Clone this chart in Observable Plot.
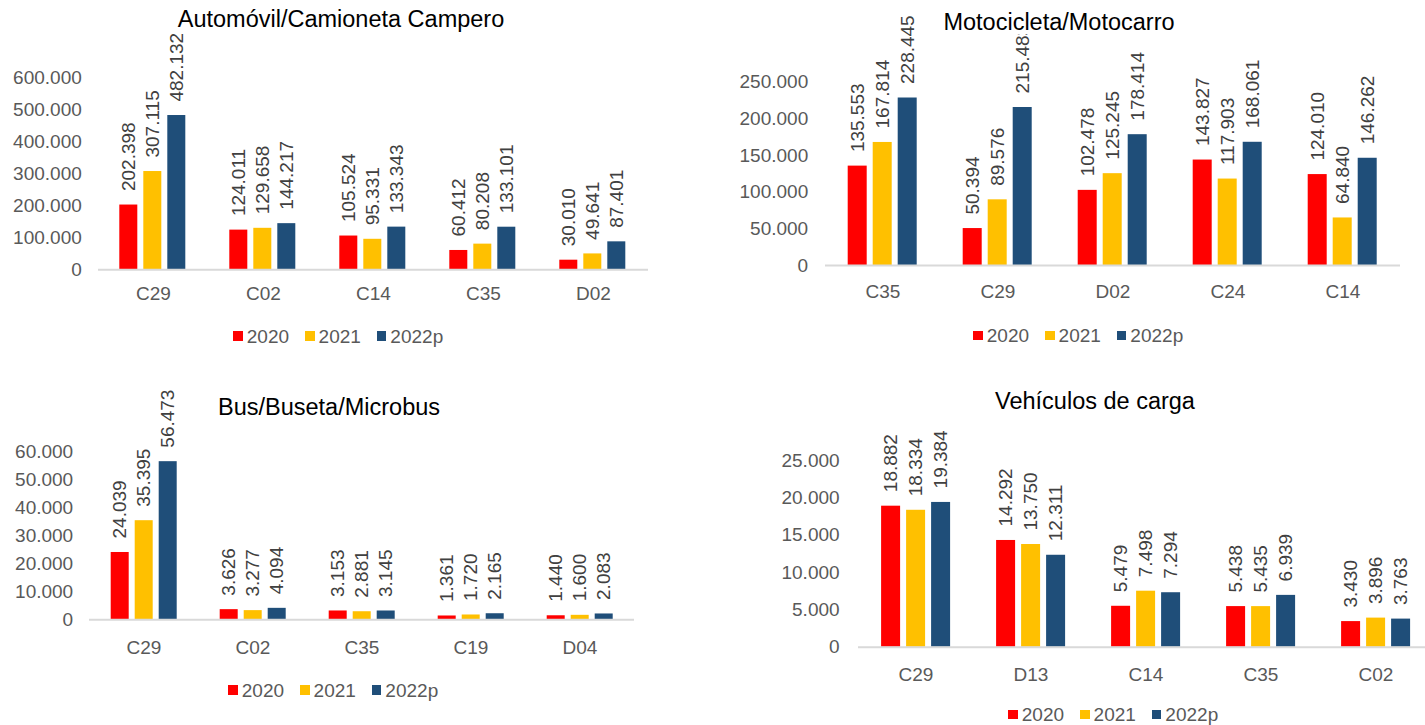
<!DOCTYPE html>
<html>
<head>
<meta charset="utf-8">
<script src="https://cdn.jsdelivr.net/npm/d3@7"></script>
<script src="https://cdn.jsdelivr.net/npm/@observablehq/plot@0.6"></script>
<style>
  html, body { margin: 0; padding: 0; background: #fff; }
  #root { position: relative; width: 1425px; height: 725px; overflow: hidden; background: #fff;
          font-family: "Liberation Sans", Arial, sans-serif; }
  .title { position: absolute; white-space: nowrap; font-size: 23.5px; line-height: 1; color: #000;
           transform: translateX(-50%); background: #fff; }
  .legend { position: absolute; display: flex; align-items: center; height: 19px; font-size: 19px;
            line-height: 19px; color: #595959; white-space: nowrap; }
  .legend .sw { width: 9.5px; height: 9.5px; margin-right: 4px; }
  .legend .item { display: flex; align-items: center; margin-right: 16px; }
</style>
</head>
<body>
<div id="root"></div>
<script>
// ---------- data ----------
const series = ["2020", "2021", "2022p"];
const seriesColors = ["#FF0000", "#FFC000", "#1F4E79"];

// Automóvil/Camioneta Campero
const autoTitle = "Automóvil/Camioneta Campero";
const autoCats = ["C29", "C02", "C14", "C35", "D02"];
const auto2020 = [202398, 124011, 105524, 60412, 30010];
const auto2021 = [307115, 129658, 95331, 80208, 49641];
const auto2022 = [482132, 144217, 133343, 133101, 87401];
const autoTicks = [0, 100000, 200000, 300000, 400000, 500000, 600000];

// Motocicleta/Motocarro
const motoTitle = "Motocicleta/Motocarro";
const motoCats = ["C35", "C29", "D02", "C24", "C14"];
const moto2020 = [135553, 50394, 102478, 143827, 124010];
const moto2021 = [167814, 89576, 125245, 117903, 64840];
const moto2022 = [228445, 215483, 178414, 168061, 146262];
const motoTicks = [0, 50000, 100000, 150000, 200000, 250000];

// Bus/Buseta/Microbus
const busTitle = "Bus/Buseta/Microbus";
const busCats = ["C29", "C02", "C35", "C19", "D04"];
const bus2020 = [24039, 3626, 3153, 1361, 1440];
const bus2021 = [35395, 3277, 2881, 1720, 1600];
const bus2022 = [56473, 4094, 3145, 2165, 2083];
const busTicks = [0, 10000, 20000, 30000, 40000, 50000, 60000];

// Vehículos de carga
const cargaTitle = "Vehículos de carga";
const cargaCats = ["C29", "D13", "C14", "C35", "C02"];
const carga2020 = [18882, 14292, 5479, 5438, 3430];
const carga2021 = [18334, 13750, 7498, 5435, 3896];
const carga2022 = [19384, 12311, 7294, 6939, 3763];
const cargaTicks = [0, 5000, 10000, 15000, 20000, 25000];

// ---------- helpers ----------
const loc = d3.formatLocale({decimal: ",", thousands: ".", grouping: [3], currency: ["$", ""]});
const fmt = loc.format(",d");
const root = document.getElementById("root");

function makeTable(cats, vals) {
  return cats.flatMap((c, i) => series.map((s, j) => ({cat: c, series: s, value: vals[j][i]})));
}

function panel(o) {
  const data = makeTable(o.cats, o.vals);
  const max = o.ticks[o.ticks.length - 1];
  const chart = Plot.plot({
    width: o.width, height: o.height,
    marginLeft: o.ml, marginRight: o.mr, marginTop: o.mt, marginBottom: o.mb,
    style: {fontFamily: '"Liberation Sans", Arial, sans-serif', fontSize: "19px", color: "#595959",
            background: "transparent", overflow: "visible"},
    fx: {domain: o.cats, padding: 0, label: null, tickSize: 0, tickPadding: o.fxPad, axis: "bottom"},
    x: {domain: series, axis: null, paddingInner: 0.23, paddingOuter: 0.87},
    y: {domain: [0, max], ticks: o.ticks, tickFormat: fmt, tickSize: 0, tickPadding: o.yPad, label: null},
    color: {domain: series, range: seriesColors},
    marks: [
      Plot.barY(data, {fx: "cat", x: "series", y: "value", fill: "series"}),
      Plot.ruleY([0], {stroke: "#d9d9d9", strokeWidth: 2}),
      Plot.text(data, {fx: "cat", x: "series", y: "value", text: d => fmt(d.value), rotate: -90,
                       textAnchor: "start", lineAnchor: "middle", dy: -14, fill: "#404040", fontSize: 19})
    ]
  });
  chart.style.position = "absolute";
  chart.style.left = o.left + "px";
  chart.style.top = o.top + "px";
  root.appendChild(chart);

  const t = document.createElement("div");
  t.className = "title";
  t.textContent = o.title;
  t.style.left = o.titleX + "px";
  t.style.top = (o.titleBase - 20) + "px";
  root.appendChild(t);

  const lg = document.createElement("div");
  lg.className = "legend";
  lg.style.left = o.legX + "px";
  lg.style.top = (o.legY - 9.5) + "px";
  series.forEach((s, i) => {
    const it = document.createElement("div");
    it.className = "item";
    const sw = document.createElement("div");
    sw.className = "sw";
    sw.style.background = seriesColors[i];
    const tx = document.createElement("span");
    tx.textContent = s;
    it.appendChild(sw); it.appendChild(tx);
    lg.appendChild(it);
  });
  root.appendChild(lg);
}

panel({title: autoTitle, cats: autoCats, vals: [auto2020, auto2021, auto2022], ticks: autoTicks,
       left: 0, top: 0, width: 660, height: 310, ml: 97.7, mr: 11.3, mt: 77.3, mb: 40.7,
       yPad: 16.7, fxPad: 16.2, titleX: 341, titleBase: 28.3, legX: 233.3, legY: 336});

panel({title: motoTitle, cats: motoCats, vals: [moto2020, moto2021, moto2022], ticks: motoTicks,
       left: 700, top: 0, width: 725, height: 300, ml: 123.3, mr: 24.2, mt: 81.7, mb: 35,
       yPad: 17.3, fxPad: 19, titleX: 1059, titleBase: 30.7, legX: 973.3, legY: 335.7});

panel({title: busTitle, cats: busCats, vals: [bus2020, bus2021, bus2022], ticks: busTicks,
       left: 0, top: 370, width: 660, height: 290, ml: 87.3, mr: 23.7, mt: 81.3, mb: 40.7,
       yPad: 16.3, fxPad: 20.3, titleX: 329, titleBase: 415.7, legX: 228.3, legY: 690});

panel({title: cargaTitle, cats: cargaCats, vals: [carga2020, carga2021, carga2022], ticks: cargaTicks,
       left: 740, top: 380, width: 704, height: 300, ml: 117.9, mr: 10.1, mt: 80, mb: 33.3,
       yPad: 18.9, fxPad: 19.9, titleX: 1095, titleBase: 410, legX: 1008.3, legY: 714.5});
</script>
</body>
</html>
